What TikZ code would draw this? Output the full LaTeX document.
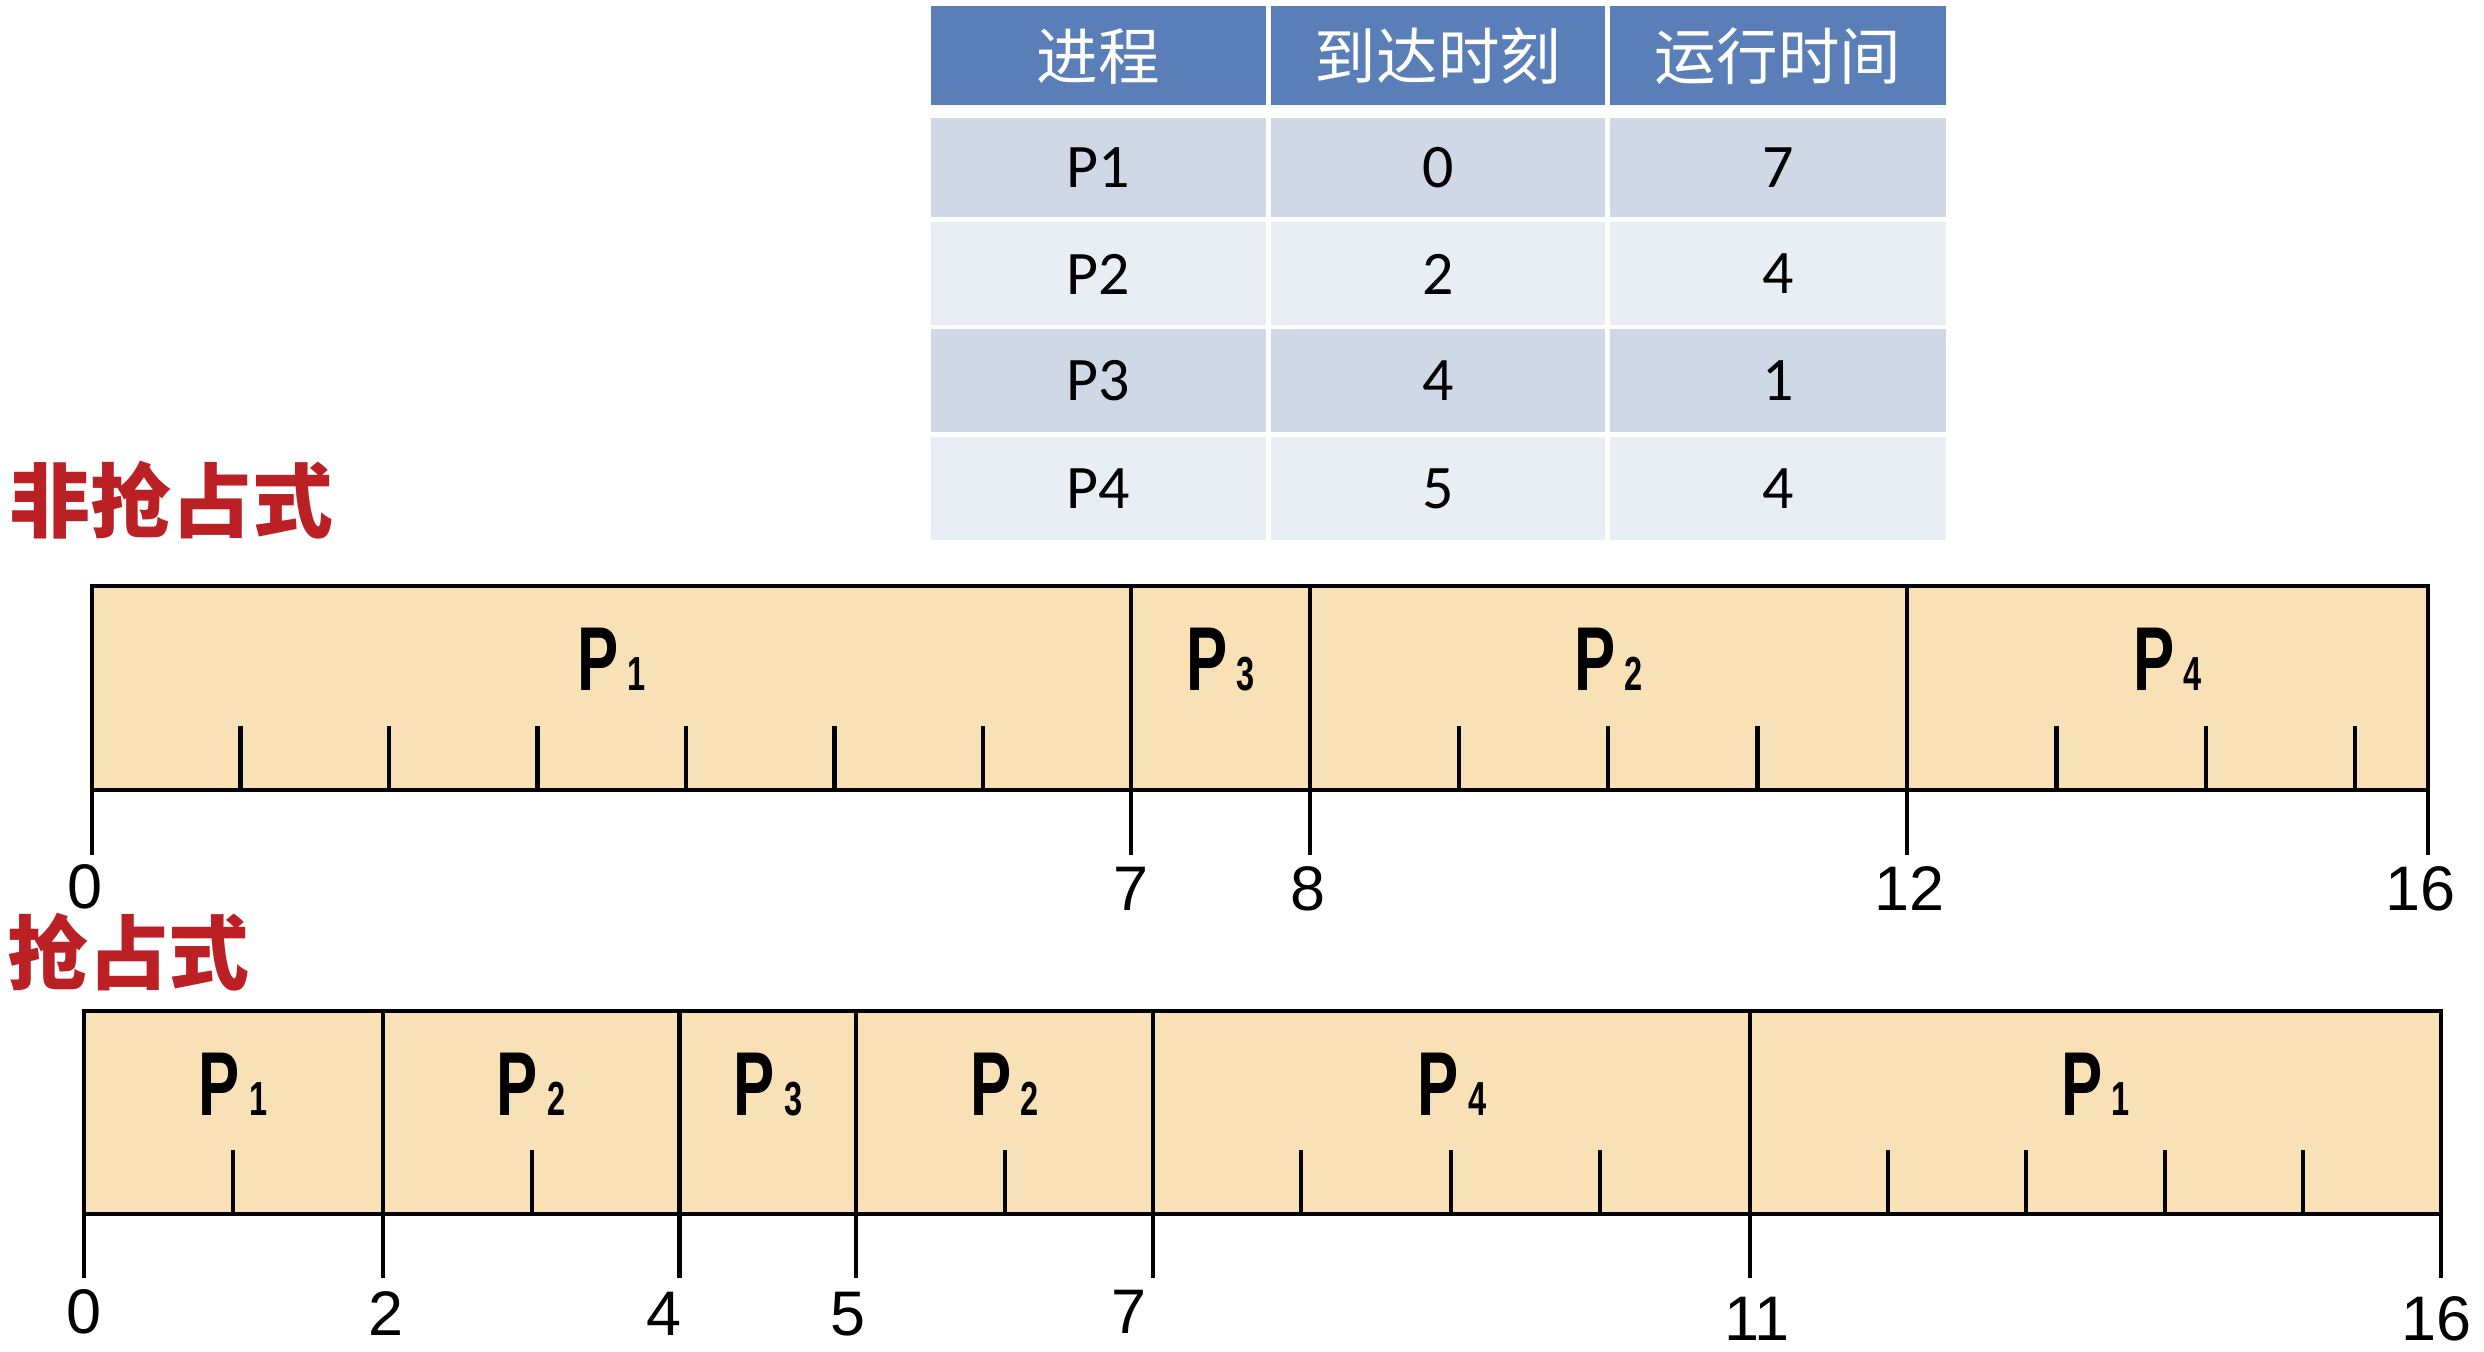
\documentclass[tikz,border=0pt]{standalone}
\usepackage{fontspec}
\setmainfont{Liberation Sans}
\newfontfamily\cjkfont{Noto Sans CJK SC}
\newfontfamily\calfont{Carlito}
\newfontfamily\plabfont{Liberation Sans Bold}[FakeStretch=0.68]
\definecolor{hdrblue}{RGB}{90,127,184}
\definecolor{bandA}{RGB}{208,216,232}
\definecolor{bandB}{RGB}{233,237,244}
\definecolor{barfill}{RGB}{248,225,182}
\definecolor{redtxt}{RGB}{186,32,36}
\newcommand{\Plbl}[1]{{\plabfont\fontsize{25.8}{28}\selectfont P\hspace{0.09cm}{\fontsize{13.6}{14}\selectfont #1}}}
\tikzset{
  bar/.style={fill=barfill, draw=black, line width=1.15pt},
  tk/.style={draw=black, line width=1.15pt},
  axlab/.style={anchor=base, inner sep=0pt, font=\fontsize{17.9}{20}\selectfont},
  plab/.style={anchor=base, inner sep=0pt},
  tabtxt/.style={inner sep=0pt, font=\calfont\fontsize{17.6}{20}\selectfont},
  hdrtxt/.style={inner sep=0pt, text=white, font=\cjkfont\fontsize{17.5}{20}\selectfont},
  redlab/.style={inner sep=0pt, anchor=west, text=redtxt, font=\cjkfont\bfseries\fontsize{23}{26}\selectfont}
}
\begin{document}
\begin{tikzpicture}[x=0.01cm,y=-0.01cm]
\useasboundingbox[fill=white] (0,0) rectangle (2484,1352);

% ---------- table ----------
\fill[hdrblue] (931,6.5) rectangle (1266,105);
\fill[hdrblue] (1271,6.5) rectangle (1605,105);
\fill[hdrblue] (1610,6.5) rectangle (1946,105);
\foreach \ya/\yb/\cc in {118.5/217/bandA, 222.5/325/bandB, 329.5/432.5/bandA, 437/540/bandB}{
  \fill[\cc] (931,\ya) rectangle (1266,\yb);
  \fill[\cc] (1271,\ya) rectangle (1605,\yb);
  \fill[\cc] (1610,\ya) rectangle (1946,\yb);
}
\node[hdrtxt] (h1) at (1098.5,56) {进程};
\node[hdrtxt] (h2) at (1438,56) {到达时刻};
\node[hdrtxt] (h3) at (1778,56) {运行时间};

\node[tabtxt] (r1a) at (1098.5,168) {P1};
\node[tabtxt] (r1b) at (1438,168) {0};
\node[tabtxt] (r1c) at (1778,168) {7};
\node[tabtxt] (r2a) at (1098.5,274) {P2};
\node[tabtxt] (r2b) at (1438,274) {2};
\node[tabtxt] (r2c) at (1778,274) {4};
\node[tabtxt] (r3a) at (1098.5,381) {P3};
\node[tabtxt] (r3b) at (1438,381) {4};
\node[tabtxt] (r3c) at (1778,381) {1};
\node[tabtxt] (r4a) at (1098.5,488.5) {P4};
\node[tabtxt] (r4b) at (1438,488.5) {5};
\node[tabtxt] (r4c) at (1778,488.5) {4};

% ---------- section labels ----------
\node[redlab] (np) at (9,500) {非抢占式};
\node[redlab] (pp) at (6.5,952) {抢占式};

% ---------- non-preemptive bar ----------
\filldraw[bar] (92,586) rectangle (2428,790);
\foreach \x in {1131,1310,1907}{\draw[tk] (\x,586) -- (\x,790);}
\foreach \x in {240.5,389,537.5,686,834.5,983,1459,1608,1757.5,2056.5,2205.6,2354.6}{\draw[tk] (\x,726) -- (\x,790);}
\foreach \x in {92,1131,1310,1907,2428}{\draw[tk] (\x,790) -- (\x,855);}
\node[plab] (a1) at (611.5,690) {\Plbl{1}};
\node[plab] (a2) at (1220.5,690) {\Plbl{3}};
\node[plab] (a3) at (1608.5,690) {\Plbl{2}};
\node[plab] (a4) at (2167.5,690) {\Plbl{4}};
\node[axlab] (n0) at (85,908) {0};
\node[axlab] (n7) at (1131,910) {7};
\node[axlab] (n8) at (1308,910) {8};
\node[axlab] (n12) at (1909,910) {12};
\node[axlab] (n16) at (2420,910) {16};

% ---------- preemptive bar ----------
\filldraw[bar] (84,1011) rectangle (2441,1214);
\foreach \x in {382.6,679.5,856,1153,1750}{\draw[tk] (\x,1011) -- (\x,1214);}
\foreach \x in {233,532,1004.6,1301,1451,1600,1888,2026,2164.6,2303}{\draw[tk] (\x,1150) -- (\x,1214);}
\foreach \x in {84,382.6,679.5,856,1153,1750,2441}{\draw[tk] (\x,1214) -- (\x,1278);}
\node[plab] (b1) at (233,1115) {\Plbl{1}};
\node[plab] (b2) at (531,1115) {\Plbl{2}};
\node[plab] (b3) at (768,1115) {\Plbl{3}};
\node[plab] (b4) at (1004.5,1115) {\Plbl{2}};
\node[plab] (b5) at (1452,1115) {\Plbl{4}};
\node[plab] (b6) at (2095.5,1115) {\Plbl{1}};
\node[axlab] (m0) at (84,1333) {0};
\node[axlab] (m2) at (386,1335) {2};
\node[axlab] (m4) at (664,1335) {4};
\node[axlab] (m5) at (848,1335) {5};
\node[axlab] (m7) at (1129,1333) {7};
\node[axlab] (m11) at (1757,1340) {11};
\node[axlab] (m16) at (2436,1340) {16};
\end{tikzpicture}
\end{document}
